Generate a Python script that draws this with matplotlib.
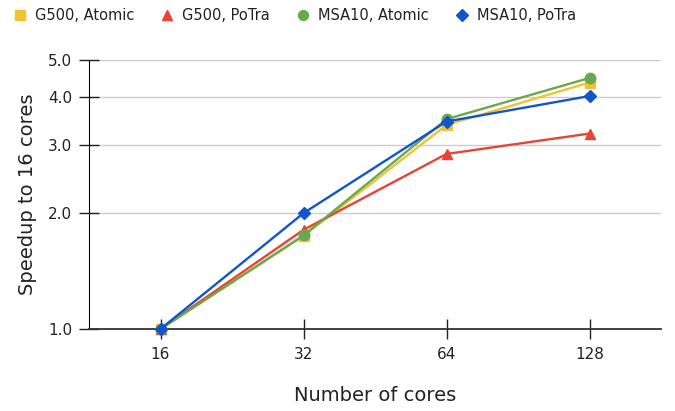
import numpy as np
import matplotlib.pyplot as plt
from matplotlib.ticker import FixedLocator, NullLocator, FormatStrFormatter

# data
cores = [16, 32, 64, 128]
g500_atomic = [1.0, 1.745, 3.39, 4.37]
g500_potra = [1.0, 1.81, 2.85, 3.22]
msa10_atomic = [1.0, 1.75, 3.51, 4.49]
msa10_potra = [1.0, 2.0, 3.46, 4.03]

series = [
    ('G500, Atomic', g500_atomic, '#f1c232', 's', 7),
    ('G500, PoTra', g500_potra, '#ea4335', '^', 7.5),
    ('MSA10, Atomic', msa10_atomic, '#6aa84f', 'o', 7.5),
    ('MSA10, PoTra', msa10_potra, '#1155cc', 'D', 6),
]

fig = plt.figure(figsize=(6.75, 4.11), dpi=100)
ax = fig.add_axes([89/675, 1-329/411, (661-89)/675, (329-60)/411])

for name, vals, col, mk, ms in series:
    ax.plot(cores, vals, color=col, marker=mk, markersize=ms, linewidth=1.7,
            label=name, clip_on=False, zorder=3)

ax.set_xscale('log', base=2)
ax.set_xlim(16 / np.sqrt(2), 128 * np.sqrt(2))
ax.xaxis.set_major_locator(FixedLocator(cores))
ax.xaxis.set_minor_locator(NullLocator())
ax.set_xticklabels([str(c) for c in cores])

ax.set_yscale('log')
ax.set_ylim(1.0, 5.0)
ax.yaxis.set_major_locator(FixedLocator([1.0, 2.0, 3.0, 4.0, 5.0]))
ax.yaxis.set_minor_locator(NullLocator())
ax.yaxis.set_major_formatter(FormatStrFormatter('%.1f'))

ax.grid(axis='y', color='#cccccc', linewidth=1.0, zorder=0)
for s in ['top', 'right']:
    ax.spines[s].set_visible(False)
ax.spines['left'].set_color('#000000')
ax.spines['bottom'].set_color('#333333')
ax.spines['bottom'].set_linewidth(1.3)
ax.tick_params(axis='both', direction='inout', length=14, width=1, labelsize=11,
               colors='#222222')
ax.tick_params(axis='x', pad=6)
ax.tick_params(axis='y', pad=5)

ax.set_xlabel('Number of cores', fontsize=14, color='#222222', labelpad=17)
ax.set_ylabel('Speedup to 16 cores', fontsize=14, color='#222222', labelpad=8)

fig.legend(loc='upper left', bbox_to_anchor=(0.0, 1.012), ncol=4, frameon=False,
           fontsize=10.5, handlelength=0.9, handletextpad=0.6, columnspacing=1.8,
           labelcolor='#222222', markerscale=0.95)
leg = fig.legends[0]
for h in leg.legend_handles:
    h.set_linestyle('none')

fig.savefig('out.png', dpi=100)
